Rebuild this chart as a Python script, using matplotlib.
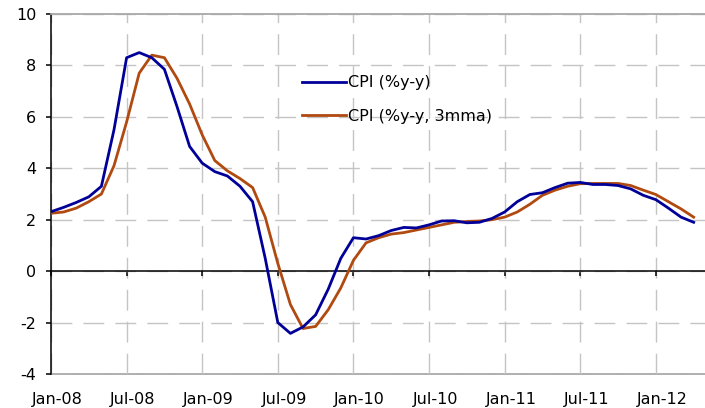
import matplotlib.pyplot as plt

plt.rcParams['font.family'] = ['DejaVu Sans']
plt.rcParams['lines.scale_dashes'] = False
plt.rcParams['axes.unicode_minus'] = False

# monthly CPI, Jan-08 .. Apr-12
months = list(range(52))
cpi_yy = [2.31, 2.48, 2.67, 2.89, 3.3, 5.5, 8.3, 8.5, 8.3, 7.85,
          6.4, 4.85, 4.2, 3.87, 3.7, 3.3, 2.7, 0.5, -2.0, -2.42,
          -2.17, -1.7, -0.7, 0.5, 1.3, 1.25, 1.38, 1.58, 1.7, 1.68,
          1.8, 1.95, 1.96, 1.88, 1.9, 2.05, 2.3, 2.7, 2.98, 3.05,
          3.25, 3.42, 3.45, 3.37, 3.37, 3.33, 3.2, 2.95, 2.78, 2.45,
          2.1, 1.9]
cpi_3mma = [2.25, 2.3, 2.45, 2.7, 3.0, 4.1, 5.8, 7.7, 8.4, 8.3,
            7.5, 6.5, 5.3, 4.3, 3.9, 3.6, 3.25, 2.1, 0.3, -1.3,
            -2.23, -2.15, -1.5, -0.65, 0.42, 1.1, 1.3, 1.44, 1.5, 1.6,
            1.7, 1.8, 1.9, 1.93, 1.95, 2.0, 2.1, 2.3, 2.6, 2.95,
            3.15, 3.3, 3.4, 3.41, 3.41, 3.41, 3.33, 3.15, 2.98, 2.7,
            2.42, 2.1]
tick_months = [0, 6, 12, 18, 24, 30, 36, 42, 48]
tick_labels = ['Jan-08', 'Jul-08', 'Jan-09', 'Jul-09', 'Jan-10',
               'Jul-10', 'Jan-11', 'Jul-11', 'Jan-12']
y_ticks = [-4, -2, 0, 2, 4, 6, 8, 10]

fig = plt.figure(figsize=(7.05, 4.08), dpi=100)
ax = fig.add_axes([51 / 705, 34 / 408, 654 / 705, 360 / 408])

ax.plot(months, cpi_yy, color='#000099', lw=2.0, label='CPI (%y-y)', zorder=4)
ax.plot(months, cpi_3mma, color='#B04A10', lw=2.0, label='CPI (%y-y, 3mma)', zorder=3)

ax.set_xlim(0, 51.9)
ax.set_ylim(-4, 10)
ax.set_yticks(y_ticks)
ax.set_xticks(tick_months)
ax.set_axisbelow(True)
ax.grid(True, color='#c4c4c4', lw=1.0, dashes=(15, 8))

# x axis line sits on zero, labels go on the lower border
ax.spines['bottom'].set_position(('data', 0))
ax.spines['bottom'].set_color('black')
ax.spines['bottom'].set_linewidth(1.1)
ax.spines['left'].set_color('black')
ax.spines['left'].set_linewidth(1.1)
ax.spines['top'].set_color('#a8a8a8')
ax.spines['top'].set_linewidth(1.3)
ax.spines['right'].set_visible(False)
ax.tick_params(axis='x', direction='out', length=3.6, width=1.1,
               labelbottom=False)
ax.tick_params(axis='y', direction='out', length=3.6, width=1.1,
               pad=7, labelsize=11.5)

sec = ax.secondary_xaxis('bottom')
sec.set_xticks([m + 0.5 for m in tick_months], tick_labels)
sec.tick_params(length=0, pad=13, labelsize=11.5)
sec.spines['bottom'].set_color('#a8a8a8')
sec.spines['bottom'].set_linewidth(1.3)

ax.legend(loc='upper left', bbox_to_anchor=(288 / 705, 1 - 61 / 408),
          bbox_transform=fig.transFigure, frameon=False, fontsize=11.5,
          handlelength=2.7, handletextpad=0.15, labelspacing=1.15)

fig.savefig('out.png', dpi=100)
